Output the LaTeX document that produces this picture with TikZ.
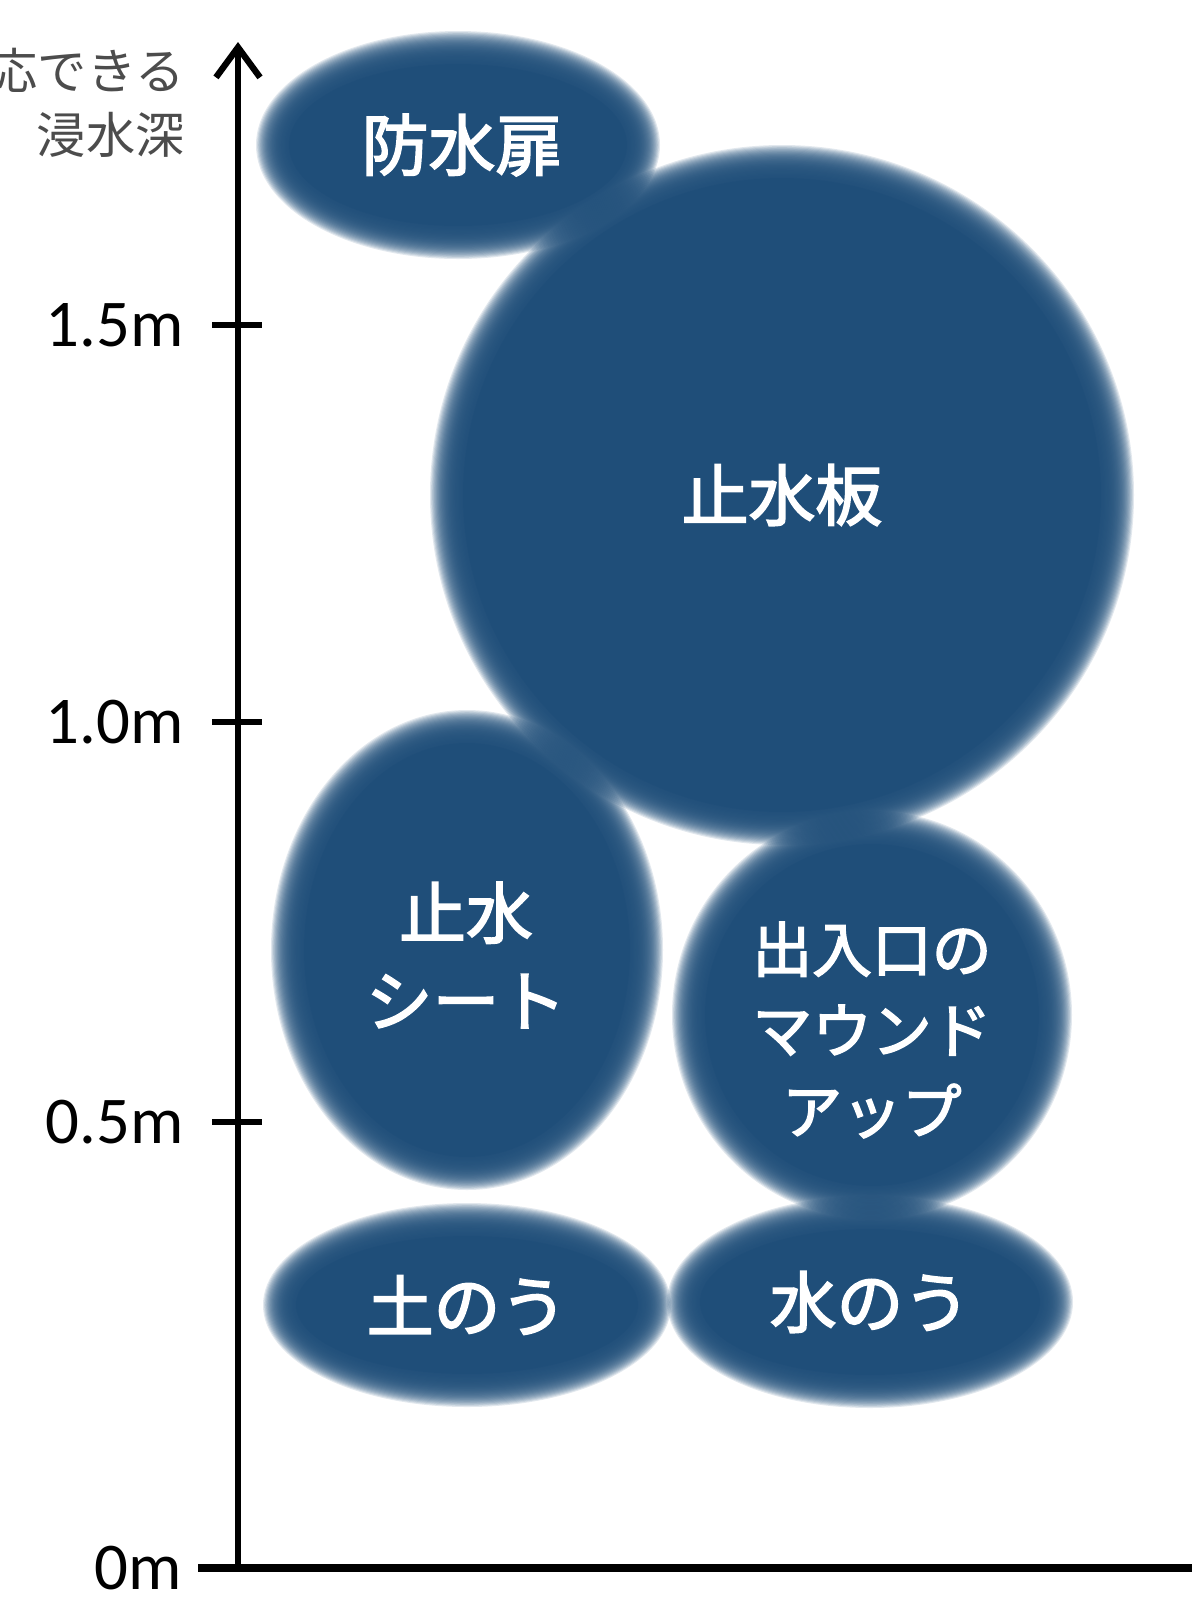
\documentclass[tikz,border=0pt]{standalone}
\usepackage{fontspec}
\setmainfont{Carlito}
\newfontfamily\jp{Noto Sans CJK JP}
\newfontfamily\jpm{Noto Sans CJK JP}[FakeBold=2.5]
\usetikzlibrary{arrows.meta}

\definecolor{pond}{RGB}{31,78,121}
\tikzset{
  tick/.style={line width=1.6pt},
  val/.style={anchor=east,font=\fontsize{19}{19}\selectfont},
  blobtext/.style={text=white,align=center,font=\jpm\fontsize{19}{25}\selectfont},
}
% soft edged filled ellipse
\newcommand{\blob}[3]{%
  \foreach \k in {0,...,29}
    \fill[pond,opacity=0.13] #1 ellipse [x radius={#2+16-1.1*\k}, y radius={#3+16-1.1*\k}];
  \fill[pond] #1 ellipse [x radius={#2-17}, y radius={#3-17}];
}

\begin{document}
\begin{tikzpicture}[x=0.01cm,y=-0.01cm]
  \useasboundingbox (0,0) rectangle (1200,1614);

  \coordinate (orig) at (238,1568);
  \coordinate (top) at (238,42);
  \coordinate (xend) at (1192,1568);

  % blobs
  \blob{(458,145)}{186}{98}
  \blob{(782,495)}{336}{334}
  \blob{(467,950)}{180}{224}
  \blob{(872,1015)}{184}{188}
  \blob{(467,1305)}{188}{86}
  \blob{(870,1302)}{187}{90}

  \node[blobtext] (door) at (462,145) {防水扉};
  \node[blobtext] (board) at (782,495) {止水板};
  \node[blobtext] (sheet) at (466,955) {止水\\シート};
  \node[blobtext,font=\jpm\fontsize{17}{23}\selectfont] (mound) at (872,1030) {出入口の\\マウンド\\アップ};
  \node[blobtext] (soil) at (467,1305) {土のう};
  \node[blobtext] (water) at (870,1302) {水のう};

  % axes
  \draw[line width=1.6pt,-{Straight Barb[length=3mm,width=4.4mm,line width=1.8pt]}] (orig) -- (top);
  \draw[line width=2.2pt] (198,1568) -- (xend);
  \foreach \y/\t in {325/1.5m,722/1.0m,1122/0.5m}{
    \draw[tick] (212,\y) -- (262,\y);
    \node[val] at (196,\y) {\t};
  }
  \node[val] (zero) at (194,1568) {0m};
  \node[anchor=north east,text=black!70,align=right,font=\jp\fontsize{14}{18}\selectfont] (ylabel) at (197,36) {応できる\\浸水深};
\end{tikzpicture}
\end{document}
